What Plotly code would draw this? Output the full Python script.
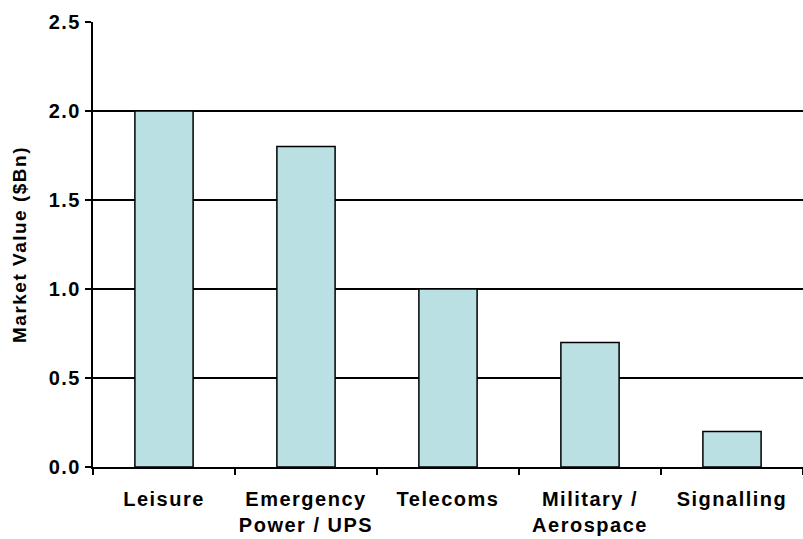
import plotly.graph_objects as go

categories = ["Leisure", "Emergency<br>Power / UPS", "Telecoms", "Military /<br>Aerospace", "Signalling"]
market_value = [2.0, 1.8, 1.0, 0.7, 0.2]
y_ticks = [0.0, 0.5, 1.0, 1.5, 2.0, 2.5]

font_family = "Liberation Sans, Arial, sans-serif"


def spaced(text, px=1.5):
    # bold text with a little extra tracking between the letters
    return f'<span style="letter-spacing:{px}px"><b>{text}</b></span>'


fig = go.Figure(
    go.Bar(
        x=categories,
        y=market_value,
        width=0.41,
        marker=dict(color="#BBE0E3", line=dict(color="black", width=1.5)),
    )
)

fig.update_layout(
    width=803,
    height=539,
    margin=dict(l=93, r=0, t=22, b=72),
    plot_bgcolor="white",
    paper_bgcolor="white",
    showlegend=False,
    font=dict(family=font_family, color="black"),
)

fig.update_xaxes(
    tickvals=categories,
    ticktext=[spaced(c) for c in categories],
    tickangle=0,
    automargin=False,
    ticklabelstandoff=13,
    showline=True,
    linecolor="black",
    linewidth=2,
    ticks="outside",
    tickson="boundaries",
    ticklen=6,
    tickwidth=2,
    tickcolor="black",
    tickfont=dict(size=20, family=font_family),
    showgrid=False,
)

fig.update_yaxes(
    range=[0, 2.5],
    tickvals=y_ticks,
    ticktext=[spaced(f"{v:.1f}") for v in y_ticks],
    automargin=False,
    showline=True,
    linecolor="black",
    linewidth=2,
    ticks="outside",
    ticklen=6,
    tickwidth=2,
    tickcolor="black",
    tickfont=dict(size=20, family=font_family),
    showgrid=True,
    gridcolor="black",
    gridwidth=1.5,
    zeroline=False,
    title=dict(text=spaced("Market Value ($Bn)", 1.5), font=dict(size=19, family=font_family), standoff=17),
)

fig.write_html("out.html")
